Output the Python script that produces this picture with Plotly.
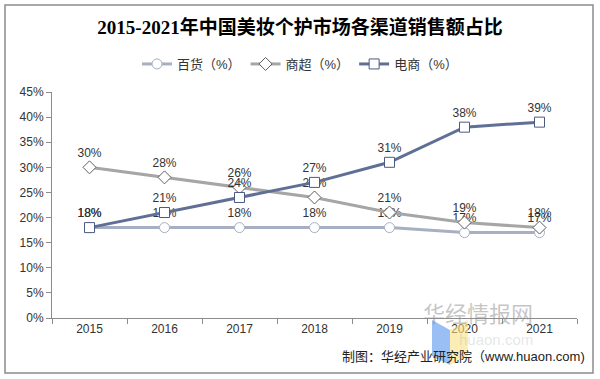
import plotly.graph_objects as go

years = ["2015", "2016", "2017", "2018", "2019", "2020", "2021"]
baihuo = [18, 18, 18, 18, 18, 17, 17]
shangchao = [30, 28, 26, 24, 21, 19, 18]
dianshang = [18, 21, 24, 27, 31, 38, 39]
series_names = ["百货（%）", "商超（%）", "电商（%）"]
y_ticks = [0, 5, 10, 15, 20, 25, 30, 35, 40, 45]
y_tick_labels = [f"{v}%" for v in y_ticks]

FONT = "Arial, Liberation Sans, Noto Sans CJK SC"
L, R, T, B = 52, 23, 92, 61
W, H = 600, 379
pw, ph = W - L - R, H - T - B

def px(x):
    return (x - L) / pw

def py(y):
    return (H - B - y) / ph

fig = go.Figure()
specs = [
    (baihuo, series_names[0], "#A7AFC3", "circle", "#A7AFC3"),
    (shangchao, series_names[1], "#A6A6A6", "diamond", "#5E5E5E"),
    (dianshang, series_names[2], "#5F6F96", "square", "#4B5A80"),
]
for vals, name, col, sym, mcol in specs:
    fig.add_trace(go.Scatter(
        x=years, y=vals, name=name, mode="lines+markers+text",
        line=dict(color=col, width=3),
        marker=dict(symbol=sym, size=10, color="white", line=dict(color=mcol, width=1)),
        text=[f"{v}%" for v in vals], textposition="top center",
        textfont=dict(family=FONT, size=12, color="#333333"),
        cliponaxis=False,
    ))

fig.update_layout(
    width=W, height=H,
    margin=dict(l=L, r=R, t=T, b=B, autoexpand=False),
    paper_bgcolor="white", plot_bgcolor="white",
    title=dict(text="<b>2015-2021年中国美妆个护市场各渠道销售额占比</b>",
               x=0.5, xref="container", xanchor="center",
               y=1 - 27 / H, yref="container", yanchor="middle",
               font=dict(family="Liberation Serif, Noto Sans CJK SC", size=19, color="#000000")),
    legend=dict(orientation="h", x=0.5, xref="container", xanchor="center",
                y=1 - 64 / H, yref="container", yanchor="middle",
                font=dict(family=FONT, size=13, color="#333333"),
                itemwidth=30, tracegroupgap=0),
    showlegend=True,
    xaxis=dict(type="category", showgrid=False, showline=True, linecolor="#8C8C8C",
               linewidth=1, ticks="outside", tickson="boundaries", ticklen=5,
               tickcolor="#8C8C8C", tickfont=dict(family=FONT, size=12, color="#333333"),
               range=[-0.5, 6.5], automargin=False),
    yaxis=dict(range=[0, 45], tickvals=y_ticks, ticktext=y_tick_labels,
               showgrid=False, showline=True, linecolor="#8C8C8C", linewidth=1,
               ticks="outside", ticklen=5, tickcolor="#8C8C8C", zeroline=False,
               tickfont=dict(family=FONT, size=12, color="#333333"), automargin=False),
)

# outer border
fig.add_shape(type="rect", xref="paper", yref="paper",
              x0=px(5), x1=px(593), y0=py(373), y1=py(5),
              line=dict(color="#8C8C8C", width=1.5), layer="below")

# watermark logo
fig.add_shape(type="path", xref="paper", yref="paper",
              path=f"M {px(432)},{py(320)} L {px(450)},{py(330)} L {px(450)},{py(365)} L {px(432)},{py(356)} Z",
              fillcolor="rgba(120,170,240,0.75)", line=dict(width=0))
fig.add_shape(type="path", xref="paper", yref="paper",
              path=f"M {px(450)},{py(330)} L {px(468)},{py(320)} L {px(468)},{py(356)} L {px(450)},{py(365)} Z",
              fillcolor="rgba(250,225,130,0.6)", line=dict(width=0))
fig.add_annotation(text="华经情报网", xref="paper", yref="paper", x=px(535), y=py(330),
                   showarrow=False, font=dict(family="Noto Sans CJK SC", size=22, color="rgba(140,140,140,0.5)"))
fig.add_annotation(text="huaon.com", xref="paper", yref="paper", x=px(535), y=py(350),
                   showarrow=False, font=dict(family=FONT, size=15, color="rgba(170,170,170,0.3)"))

fig.add_annotation(text="制图：华经产业研究院（www.huaon.com)", xref="paper", yref="paper",
                   x=px(587), y=py(356), xanchor="right", yanchor="middle", showarrow=False,
                   font=dict(family=FONT, size=13, color="#222222"))

fig.write_html("out.html", config={"displayModeBar": False},
               post_script="document.body.style.margin='0';document.body.style.overflow='hidden';")
